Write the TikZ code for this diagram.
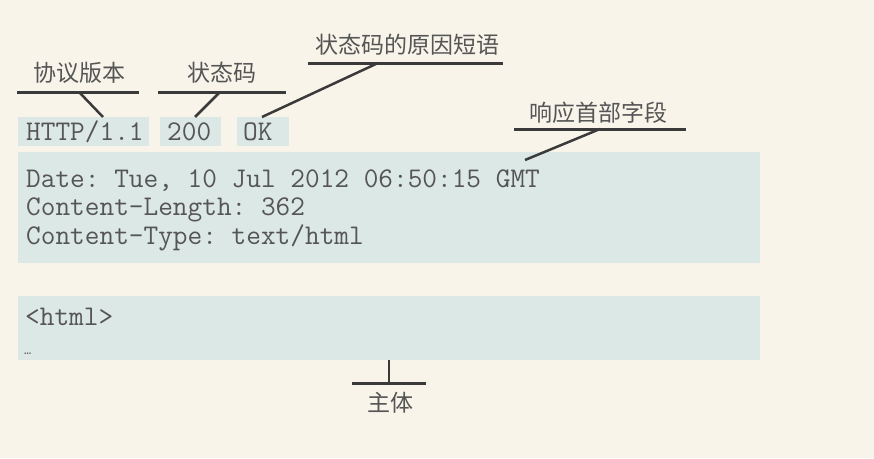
\documentclass[tikz,border=0pt]{standalone}
\usepackage{fontspec}
\newfontfamily\cjk{Noto Sans CJK SC}
\usetikzlibrary{positioning, calc}

\definecolor{paper}{HTML}{F8F4EA}
\definecolor{boxfill}{HTML}{DCE8E6}
\definecolor{ink}{HTML}{555555}
\definecolor{wire}{HTML}{3A3A3A}

\tikzset{
  msgbox/.style={fill=boxfill, draw=none, inner sep=0pt},
  code/.style={anchor=base west, inner sep=0pt, text=ink,
    font=\ttfamily\frenchspacing\fontsize{28.5}{29}\selectfont},
  lbl/.style={inner sep=0pt, text=ink, font=\cjk\fontsize{23}{23}\selectfont},
  uline/.style={draw=wire, line width=3pt},
  wireline/.style={draw=wire, line width=2.5pt}
}

\begin{document}
\begin{tikzpicture}[x=1pt, y=-1pt]

  % page
  \fill[paper] (0,0) rectangle (874,458);
  \useasboundingbox (0,0) rectangle (874,458);

  % status line boxes
  \fill[boxfill] (18,117) rectangle (149,146);
  \fill[boxfill] (160,117) rectangle (221,146);
  \fill[boxfill] (237,117) rectangle (289,146);
  \node[code] (ver)  at (26,140)  {HTTP/1.1};
  \node[code] (code) at (167,140) {200};
  \node[code] (ok)   at (243,140) {OK};

  % header box
  \fill[boxfill] (18,152) rectangle (760,263);
  \node[code] (date) at (26,187)   {Date: Tue, 10 Jul 2012 06:50:15 GMT};
  \node[code] (clen) at (26,215.5) {Content-Length: 362};
  \node[code] (ctyp) at (26,244)   {Content-Type: text/html};

  % body box
  \fill[boxfill] (18,296) rectangle (760,360);
  \node[code] (html) at (25,325) {<html>};
  \node[code] (dots) at (24,354) {\fontsize{14}{14}\selectfont …};

  % labels
  \node[lbl] (verlbl)  at (79,73)  {协议版本};
  \node[lbl] (codelbl) at (222,73) {状态码};
  \node[lbl] (oklbl)   at (407,45) {状态码的原因短语};
  \node[lbl] (hdrlbl)  at (598,113) {响应首部字段};
  \node[lbl] (bodylbl) at (390,403) {主体};

  % underlines
  \draw[uline] (17,92) -- (139,92);
  \draw[uline] (158,92) -- (286,92);
  \draw[uline] (308,63) -- (503,63);
  \draw[uline] (514,129) -- (686,129);
  \draw[uline] (352,383) -- (426,383);

  % pointer ends
  \coordinate (verA)  at (79,92);
  \coordinate (verB)  at (103,117);
  \coordinate (codeA) at (220,92);
  \coordinate (codeB) at (195,117);
  \coordinate (okA)   at (378,63);
  \coordinate (okB)   at (262,117);
  \coordinate (hdrA)  at (600,129);
  \coordinate (hdrB)  at (525,160);
  \coordinate (bodyA) at (389,360);
  \coordinate (bodyB) at (389,383);

  \draw[wireline] (verA) -- (verB);
  \draw[wireline] (codeA) -- (codeB);
  \draw[wireline] (okA) -- (okB);
  \draw[wireline] (hdrA) -- (hdrB);
  \draw[wireline] (bodyA) -- (bodyB);

\end{tikzpicture}
\end{document}
